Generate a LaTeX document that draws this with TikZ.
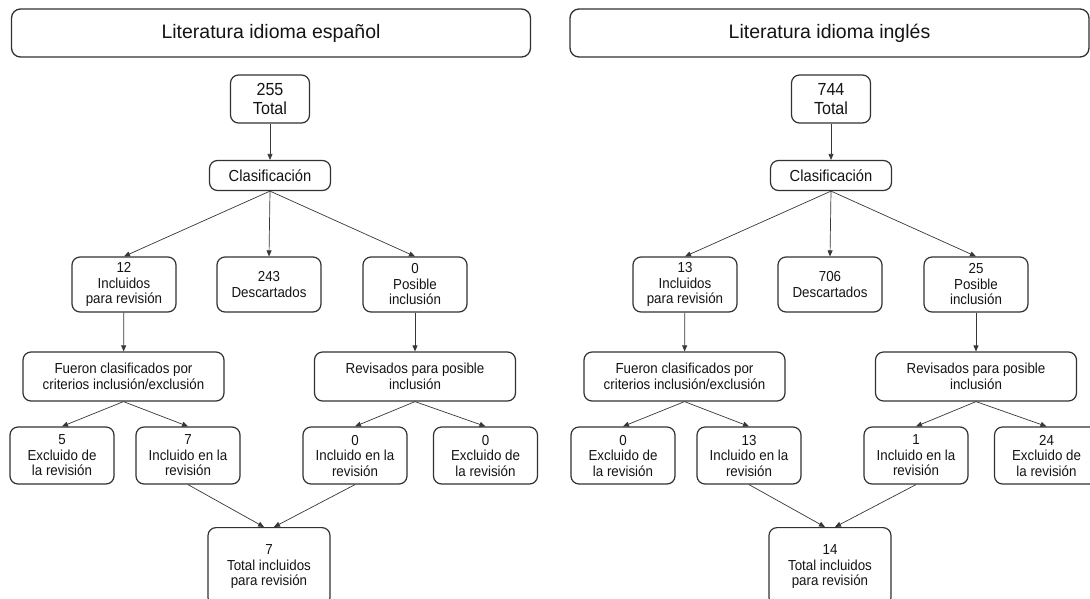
\documentclass[tikz,border=0pt]{standalone}
\usepackage{fontspec}
\setmainfont{Liberation Sans}
\newfontfamily\cajafont{Liberation Sans}[FakeStretch=0.92]
\usetikzlibrary{arrows.meta,positioning}
\usepackage{xcolor}
\definecolor{bordecol}{RGB}{50,50,50}
\definecolor{flechacol}{RGB}{55,55,55}
\definecolor{textocol}{RGB}{20,20,20}
\tikzset{
  titulo/.style = {draw=bordecol,line width=1.3pt,rounded corners=9pt,
                   minimum width=519pt,minimum height=48pt,text=textocol,
                   font=\fontsize{19.5}{22}\selectfont},
  caja/.style   = {draw=bordecol,line width=1.2pt,rounded corners=8pt,
                   align=center,inner sep=0pt,text=textocol,
                   font=\cajafont\fontsize{14.5}{15.5}\selectfont},
  cajaA/.style  = {caja,minimum width=79pt,minimum height=48pt,
                   font=\cajafont\fontsize{17.5}{18.5}\selectfont},
  cajaB/.style  = {caja,minimum width=121pt,minimum height=30pt,
                   font=\cajafont\fontsize{16}{18}\selectfont},
  cajaC/.style  = {caja,minimum width=104pt,minimum height=55pt},
  cajaD/.style  = {caja,minimum width=201pt,minimum height=49pt},
  cajaE/.style  = {caja,minimum width=104pt,minimum height=57pt},
  flecha/.style = {-{Triangle[length=6pt,width=5pt]},line width=0.7pt,
                   color=flechacol},
}
\begin{document}
\begin{tikzpicture}[x=1pt,y=-1pt]
  \path[fill=white,use as bounding box] (0,0) rectangle (1090,598);
  % los dos arboles: espanol (izquierda) e ingles (derecha)
  \foreach \s/\dx/\hx/\lang/\tot/\inc/\des/\pos/\exa/\ina/\inb/\exb/\fin in
      {e/0/271/español/255/12/243/0/5/7/0/0/7,
       i/561/829.5/inglés/744/13/706/25/0/13/1/24/14}{
    \node[titulo] (tit-\s) at (\hx,33) {Literatura idioma \lang};
    \node[cajaA] (tot-\s)  at (\dx+270,99)    {\tot\\Total};
    \node[cajaB] (clas-\s) at (\dx+270,175.5) {Clasificación};
    \node[cajaC] (inc-\s)  at (\dx+124,284.5) {\inc\\Incluidos\\para revisión};
    \node[cajaC] (des-\s)  at (\dx+269,284.5) {\des\\Descartados};
    \node[cajaC] (pos-\s)  at (\dx+415,284.5) {\pos\\Posible\\inclusión};
    \node[cajaD] (fue-\s)  at (\dx+123.5,376.5)
          {Fueron clasificados por\\criterios inclusión/exclusión};
    \node[cajaD] (rev-\s)  at (\dx+415,376.5) {Revisados para posible\\inclusión};
    \node[cajaE] (exa-\s)  at (\dx+62,455.5)  {\exa\\Excluido de\\la revisión};
    \node[cajaE] (ina-\s)  at (\dx+188,455.5) {\ina\\Incluido en la\\revisión};
    \node[cajaE] (inb-\s)  at (\dx+355,455.5) {\inb\\Incluido en la\\revisión};
    \node[cajaE] (exb-\s)  at (\dx+485.5,455.5) {\exb\\Excluido de\\la revisión};
    \node[caja,minimum width=122pt,minimum height=78pt,anchor=north]
          (fin-\s) at (\dx+269,527) {\fin\\Total incluidos\\para revisión};
    % conexiones
    \draw[flecha] (tot-\s) -- (clas-\s);
    \foreach \n in {inc,des,pos}
      \draw[flecha] (clas-\s.south) -- (\n-\s.north);
    \draw[flecha] (inc-\s) -- (fue-\s);
    \draw[flecha] (pos-\s) -- (rev-\s);
    \draw[flecha] (fue-\s.south) -- (exa-\s.north);
    \draw[flecha] (fue-\s.south) -- (ina-\s.north);
    \draw[flecha] (rev-\s.south) -- (inb-\s.north);
    \draw[flecha] (rev-\s.south) -- (exb-\s.north);
    \draw[flecha] (ina-\s.south) -- ([xshift=-5pt]fin-\s.north);
    \draw[flecha] (inb-\s.south) -- ([xshift=5pt]fin-\s.north);
  }
\end{tikzpicture}
\end{document}
